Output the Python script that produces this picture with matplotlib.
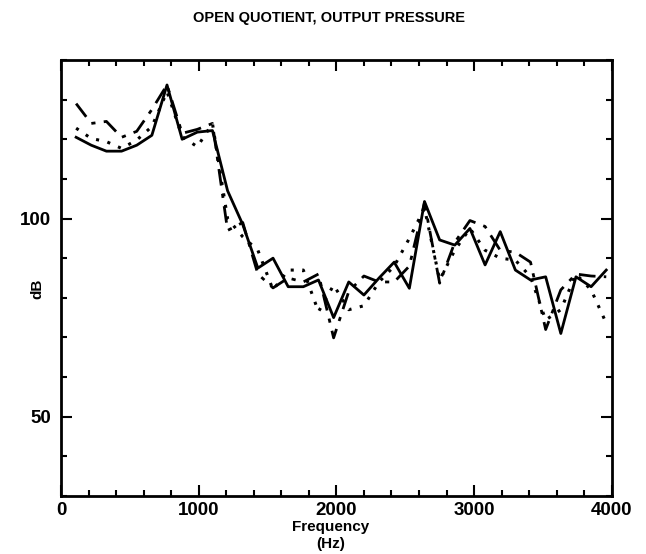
import numpy as np
import matplotlib.pyplot as plt
from matplotlib.ticker import MultipleLocator, FixedLocator

plt.rcParams['font.family'] = ['Liberation Sans', 'DejaVu Sans']
plt.rcParams['font.weight'] = 'bold'

# harmonic frequencies (Hz)
freq = [110, 220, 330, 440, 550, 660, 770, 880, 990, 1100, 1210, 1320,
        1430, 1540, 1650, 1760, 1870, 1980, 2090, 2200, 2310, 2420, 2530, 2640,
        2750, 2860, 2970, 3080, 3190, 3300, 3410, 3520, 3630, 3740, 3850, 3960]

# output pressure level (dB) for three open quotient settings
oq_solid = [120.5, 118.5, 117.0, 117.0, 118.5, 121.0, 133.7, 120.0, 121.8, 122.2, 107.0, 98.5,
            87.5, 90.0, 82.8, 82.8, 84.5, 75.0, 84.0, 80.7, 85.0, 89.0, 82.4, 104.3,
            94.6, 93.3, 97.5, 88.3, 96.7, 87.0, 84.5, 85.3, 71.0, 85.3, 82.8, 87.0]
oq_dashdot = [129.0, 124.0, 124.5, 120.5, 122.0, 127.5, 133.7, 121.5, 122.5, 124.0, 97.0, 99.0,
              86.0, 82.5, 85.0, 84.0, 86.0, 69.9, 81.6, 85.5, 84.0, 84.0, 88.0, 104.0,
              83.7, 94.0, 99.5, 98.0, 92.0, 91.5, 89.0, 72.0, 82.0, 86.0, 85.5, 85.3]
oq_dotted = [122.8, 120.2, 119.4, 117.7, 119.8, 123.2, 132.0, 120.7, 118.1, 124.0, 100.0, 95.4,
             92.0, 82.0, 87.0, 87.0, 76.5, 83.2, 77.0, 78.0, 84.0, 88.0, 95.0, 102.6,
             84.5, 92.0, 97.5, 92.0, 90.0, 89.5, 85.3, 74.4, 77.0, 86.0, 82.0, 73.6]

fig = plt.figure(figsize=(6.46, 5.54), dpi=100)
ax = fig.add_axes([0.0944, 0.1047, 0.8526, 0.787])

ax.plot(freq, oq_solid, color='black', lw=2.0, ls='-')
ax.plot(freq, oq_dashdot, color='black', lw=2.0, ls=(0, (6, 3, 1.5, 3)))
ax.plot(freq, oq_dotted, color='black', lw=2.2, ls=(0, (1, 2.8)))

ax.set_xlim(0, 4000)
ax.set_ylim(30, 140)
ax.xaxis.set_major_locator(FixedLocator([0, 1000, 2000, 3000, 4000]))
ax.xaxis.set_minor_locator(MultipleLocator(200))
ax.yaxis.set_major_locator(FixedLocator([50, 100]))
ax.yaxis.set_minor_locator(MultipleLocator(10))
ax.tick_params(which='both', direction='in', top=True, right=True, width=1.5,
               labelsize=13.5)
ax.tick_params(axis='x', pad=4)
ax.tick_params(axis='y', pad=7)
ax.tick_params(which='major', length=8)
ax.tick_params(which='minor', length=4)
for s in ax.spines.values():
    s.set_linewidth(2)

ax.set_xlabel('Frequency\n(Hz)', fontsize=11, fontweight='bold', linespacing=1.25, va='top')
ax.xaxis.set_label_coords(0.49, -0.056)
ax.set_ylabel('dB', fontsize=11, fontweight='bold', va='center')
ax.yaxis.set_label_coords(-0.042, 0.475)
fig.text(0.51, 0.967, 'OPEN QUOTIENT, OUTPUT PRESSURE', ha='center', va='center',
         fontsize=10.5, fontweight='bold')

fig.savefig('out.png', dpi=100)
